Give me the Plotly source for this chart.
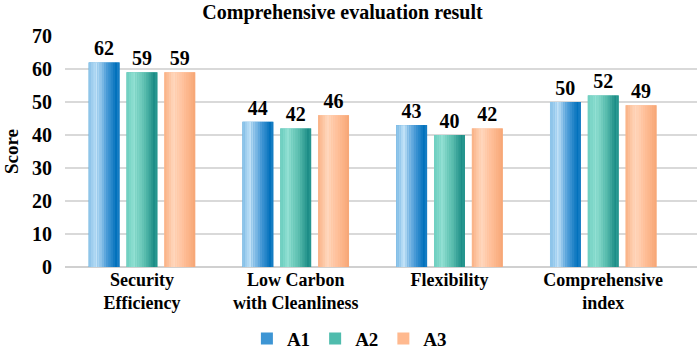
import plotly.graph_objects as go

categories = ["<b>Security</b><br><b>Efficiency</b>", "<b>Low Carbon</b><br><b>with Cleanliness</b>", "<b>Flexibility</b>", "<b>Comprehensive</b><br><b>index</b>"]
series_names = ["A1", "A2", "A3"]
a1 = [62, 44, 43, 50]
a2 = [59, 42, 40, 52]
a3 = [59, 46, 42, 49]
y_ticks = [0, 10, 20, 30, 40, 50, 60, 70]

values = [a1, a2, a3]

FONT = "Times New Roman"
BAR_W = 0.2
OFFSETS = [-0.346, -0.1, 0.146]
N_STRIPS = 14

stops = [
    [(0.0, "#86c0e8"), (0.25, "#c0e1f7"), (0.6, "#4b9bd7"), (0.9, "#0070bb"), (1.0, "#1f82c8")],
    [(0.0, "#6dcfbf"), (0.25, "#92e0d3"), (0.6, "#5abdae"), (0.9, "#1c8c86"), (1.0, "#2b9a92")],
    [(0.0, "#f9b083"), (0.3, "#ffd8be"), (0.65, "#ffbe97"), (1.0, "#f6a575")],
]
base_colors = ["#3d95d4", "#4fbcad", "#ffb98f"]


def hex2rgb(h):
    h = h.lstrip("#")
    return [int(h[i:i + 2], 16) for i in (0, 2, 4)]


def interp(st, t):
    for (t0, c0), (t1, c1) in zip(st[:-1], st[1:]):
        if t0 <= t <= t1:
            f = (t - t0) / (t1 - t0) if t1 > t0 else 0
            a, b = hex2rgb(c0), hex2rgb(c1)
            r = [round(a[i] + (b[i] - a[i]) * f) for i in range(3)]
            return "rgb({},{},{})".format(*r)
    return st[-1][1]


fig = go.Figure()

for s, name in enumerate(series_names):
    fig.add_trace(go.Bar(
        x=categories, y=values[s], name="<b>" + name + "</b>",
        offset=OFFSETS[s], width=BAR_W,
        marker=dict(color=base_colors[s], line=dict(width=0)),
        text=["<b>" + str(v) + "</b>" for v in values[s]], textposition="outside",
        textfont=dict(family=FONT, size=20, color="black"),
        cliponaxis=False, legendgroup=name, showlegend=True,
        hoverinfo="skip",
    ))
    sw = BAR_W / N_STRIPS
    for k in range(N_STRIPS):
        t = (k + 0.5) / N_STRIPS
        fig.add_trace(go.Bar(
            x=categories, y=values[s],
            offset=OFFSETS[s] + k * sw, width=sw * 1.08,
            marker=dict(color=interp(stops[s], t), line=dict(width=0)),
            legendgroup=name, showlegend=False, hoverinfo="skip",
        ))

fig.update_layout(
    width=699, height=352,
    barmode="overlay",
    paper_bgcolor="white", plot_bgcolor="white",
    margin=dict(l=65, r=2, t=36, b=85, autoexpand=False),
    title=dict(text="<b>Comprehensive evaluation result</b>", x=0.49, xanchor="center",
               y=0.965, yanchor="middle",
               font=dict(family=FONT, size=20, color="black")),
    font=dict(family=FONT, color="black"),
    xaxis=dict(range=[-0.5, 3.61], showgrid=False, showline=False, ticks="",
               tickfont=dict(family=FONT, size=18, color="black")),
    yaxis=dict(range=[0, 70], tickvals=y_ticks, ticktext=["<b>%d</b>" % v for v in y_ticks],
               showgrid=True, gridcolor="#d9d9d9",
               gridwidth=1.5, zeroline=True, zerolinecolor="#d0d0d0", zerolinewidth=2,
               ticks="", ticklabelstandoff=12,
               tickfont=dict(family=FONT, size=20, color="black"),
               title=dict(text="<b>Score</b>", standoff=8,
                          font=dict(family=FONT, size=19, color="black"))),
    legend=dict(orientation="h", x=0.45, xanchor="center", y=-0.31, yanchor="middle",
                font=dict(family=FONT, size=19, color="black"),
                itemwidth=30, tracegroupgap=0),
)

fig.write_html("out.html", post_script="document.body.style.margin='0px';",
               config={"displayModeBar": False})
